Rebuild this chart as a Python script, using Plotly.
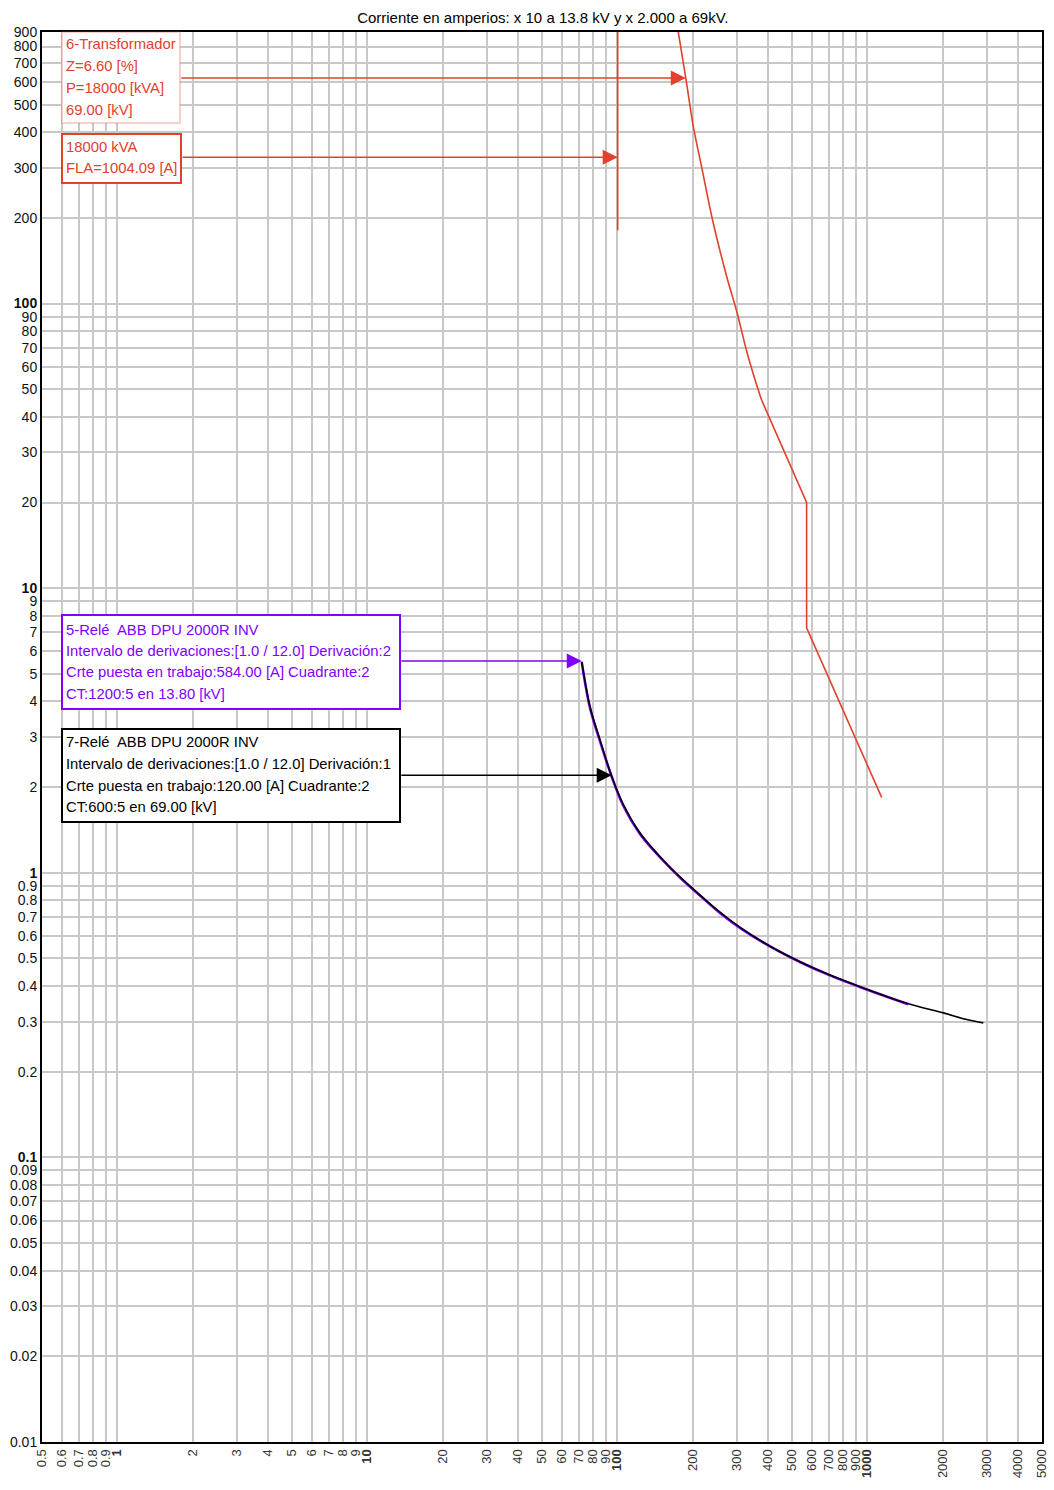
import numpy as np
import plotly.graph_objects as go

# ---------------- data ----------------
title_text = "Corriente en amperios: x 10 a 13.8 kV y x 2.000 a 69kV."

x_ticks = [0.5, 0.6, 0.7, 0.8, 0.9,
           1, 2, 3, 4, 5, 6, 7, 8, 9,
           10, 20, 30, 40, 50, 60, 70, 80, 90,
           100, 200, 300, 400, 500, 600, 700, 800, 900,
           1000, 2000, 3000, 4000, 5000]
x_ticktext = ["0.5", "0.6", "0.7", "0.8", "0.9",
              "<b>1</b>", "2", "3", "4", "5", "6", "7", "8", "9",
              "<b>10</b>", "20", "30", "40", "50", "60", "70", "80", "90",
              "<b>100</b>", "200", "300", "400", "500", "600", "700", "800", "900",
              "<b>1000</b>", "2000", "3000", "4000", "5000"]

y_ticks = [0.01, 0.02, 0.03, 0.04, 0.05, 0.06, 0.07, 0.08, 0.09,
           0.1, 0.2, 0.3, 0.4, 0.5, 0.6, 0.7, 0.8, 0.9,
           1, 2, 3, 4, 5, 6, 7, 8, 9,
           10, 20, 30, 40, 50, 60, 70, 80, 90,
           100, 200, 300, 400, 500, 600, 700, 800, 900]
y_ticktext = ["0.01", "0.02", "0.03", "0.04", "0.05", "0.06", "0.07", "0.08", "0.09",
              "<b>0.1</b>", "0.2", "0.3", "0.4", "0.5", "0.6", "0.7", "0.8", "0.9",
              "<b>1</b>", "2", "3", "4", "5", "6", "7", "8", "9",
              "<b>10</b>", "20", "30", "40", "50", "60", "70", "80", "90",
              "<b>100</b>", "200", "300", "400", "500", "600", "700", "800", "900"]

# 6-Transformador damage curve (curved part, then straight I2t part)
trafo_x = [172, 188, 201, 218, 241.5, 275, 301, 330, 372, 378, 572, 572, 1142]
trafo_y = [1000, 620, 424, 299, 193.5, 123, 93.4, 67.6, 47.7, 45.8, 20.0, 7.25, 1.84]
trafo_curved_n = 10  # first points form the smooth curved section

# FLA line
fla_x = [100.4, 100.4]
fla_y = [181, 1000]

# 5-Relé (purple) and 7-Relé (black)
relay5_x = [72.1, 77.8, 85.3, 95.0, 105.7, 123.3, 148.2, 178.2, 214.3, 257.6, 309.7, 408.3, 538, 709.5, 935.5, 1460]
relay5_y = [5.50, 3.80, 2.90, 2.18, 1.72, 1.37, 1.135, 0.962, 0.832, 0.722, 0.640, 0.551, 0.486, 0.436, 0.397, 0.345]

relay7_x = [72.1, 77.8, 85.3, 95.0, 105.7, 123.3, 148.2, 178.2, 214.3, 257.6, 309.7, 408.3, 538, 709.5, 935.5, 1438, 2015, 2498, 2912]
relay7_y = [5.52, 3.83, 2.93, 2.18, 1.74, 1.38, 1.139, 0.967, 0.835, 0.727, 0.643, 0.552, 0.487, 0.437, 0.398, 0.348, 0.322, 0.305, 0.297]

# label texts (one entry per line)
label_trafo = ["6-Transformador", "Z=6.60 [%]", "P=18000 [kVA]", "69.00 [kV]"]
label_fla = ["18000 kVA", "FLA=1004.09 [A]"]
label_r5 = ["5-Relé  ABB DPU 2000R INV",
            "Intervalo de derivaciones:[1.0 / 12.0] Derivación:2",
            "Crte puesta en trabajo:584.00 [A] Cuadrante:2",
            "CT:1200:5 en 13.80 [kV]"]
label_r7 = ["7-Relé  ABB DPU 2000R INV",
            "Intervalo de derivaciones:[1.0 / 12.0] Derivación:1",
            "Crte puesta en trabajo:120.00 [A] Cuadrante:2",
            "CT:600:5 en 69.00 [kV]"]

# arrows: (tail x, head x, y)
arrow_trafo = (1.78, 188, 620)
arrow_fla = (1.8, 100.4, 327)
arrow_r5 = (13.5, 72.1, 5.55)
arrow_r7 = (13.5, 95.0, 2.2)

RED = "#E2402C"
PURPLE = "#8000FF"
BLACK = "#000000"
FONT = "Liberation Sans Narrow, Arial Narrow, Liberation Sans, Arial, sans-serif"

# plot-area geometry in pixels (for paper-coordinate boxes)
PL, PT, PW, PH = 42, 32, 1000, 1410


def px2paper(px, py):
    return (px - PL) / PW, (PT + PH - py) / PH


fig = go.Figure()

fig.add_trace(go.Scatter(x=fla_x, y=fla_y, mode="lines",
                         line=dict(color=RED, width=1.6), showlegend=False))
fig.add_trace(go.Scatter(x=trafo_x[:trafo_curved_n], y=trafo_y[:trafo_curved_n], mode="lines",
                         line=dict(color=RED, width=1.6, shape="spline", smoothing=0.8),
                         showlegend=False))
fig.add_trace(go.Scatter(x=trafo_x[trafo_curved_n - 1:], y=trafo_y[trafo_curved_n - 1:], mode="lines",
                         line=dict(color=RED, width=1.6), showlegend=False))
fig.add_trace(go.Scatter(x=relay5_x, y=relay5_y, mode="lines",
                         line=dict(color=PURPLE, width=2.6, shape="spline", smoothing=1.0),
                         showlegend=False))
fig.add_trace(go.Scatter(x=relay7_x, y=relay7_y, mode="lines",
                         line=dict(color=BLACK, width=1.6, shape="spline", smoothing=1.0),
                         showlegend=False))

L = np.log10


def add_arrow(spec, color):
    tail, head, yv = spec
    fig.add_annotation(x=L(head), y=L(yv), ax=L(tail), ay=L(yv),
                       xref="x", yref="y", axref="x", ayref="y",
                       text="", showarrow=True, arrowhead=2, arrowsize=2.0,
                       arrowwidth=1.5, arrowcolor=color, standoff=0)


add_arrow(arrow_trafo, RED)
add_arrow(arrow_fla, RED)
add_arrow(arrow_r5, PURPLE)
add_arrow(arrow_r7, BLACK)


def add_box(lines, rect, line_y, color, border, bw):
    x0, y0 = px2paper(rect[0], rect[1])
    x1, y1 = px2paper(rect[2], rect[3])
    fig.add_shape(type="rect", xref="paper", yref="paper", x0=x0, y0=y1, x1=x1, y1=y0,
                  line=dict(color=border, width=bw), fillcolor="white", layer="above")
    for txt, py in zip(lines, line_y):
        tx, ty = px2paper(rect[0] + 2, py)
        fig.add_annotation(x=tx, y=ty, xref="paper", yref="paper",
                           xanchor="left", yanchor="middle", text=txt, showarrow=False,
                           font=dict(family=FONT, size=14.8, color=color))


add_box(label_trafo, (62, 32, 180, 123), (44, 66, 88, 110), RED, "rgba(226,64,44,0.25)", 2)
add_box(label_fla, (62, 134, 181, 183), (147, 168), RED, RED, 2)
add_box(label_r5, (62, 615, 400, 709), (630, 651, 672, 694), PURPLE, PURPLE, 2)
add_box(label_r7, (62, 729, 400, 822), (742, 764, 786, 807), BLACK, BLACK, 2)

fig.update_layout(
    width=1054, height=1490, autosize=False,
    margin=dict(l=42, r=12, t=32, b=48, autoexpand=False),
    paper_bgcolor="white", plot_bgcolor="white",
    font=dict(family=FONT, size=14, color="#222"),
    title=dict(text=title_text, x=0.515, xanchor="center", y=0.988, yanchor="middle",
               font=dict(family=FONT, size=15, color="black")),
    showlegend=False,
)
fig.update_xaxes(type="log", range=[L(0.5), L(5000)], automargin=False,
                 tickvals=x_ticks, ticktext=x_ticktext, tickangle=-90,
                 tickfont=dict(family=FONT, size=13, color="#333"),
                 showgrid=True, gridcolor="#C8C8C8", gridwidth=1.5,
                 showline=True, linecolor="black", linewidth=2, mirror=True,
                 ticks="", zeroline=False)
fig.update_yaxes(type="log", range=[L(0.01), L(900)], automargin=False,
                 tickvals=y_ticks, ticktext=y_ticktext,
                 tickfont=dict(family=FONT, size=14, color="#111"),
                 showgrid=True, gridcolor="#C8C8C8", gridwidth=1.5,
                 showline=True, linecolor="black", linewidth=2, mirror=True,
                 ticks="", zeroline=False, ticklabelstandoff=0)

fig.write_html("out.html", config={"displayModeBar": False},
               post_script="document.body.style.margin='0';document.body.style.overflow='hidden';")
